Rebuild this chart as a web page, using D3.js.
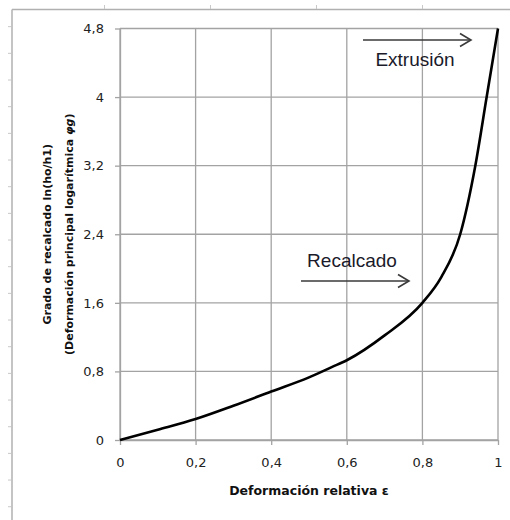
<!DOCTYPE html>
<html>
<head>
<meta charset="utf-8">
<script src="https://cdn.jsdelivr.net/npm/d3@7"></script>
<style>
  body { margin: 0; background: #fff; }
  svg text { font-family: "Liberation Sans", Arial, sans-serif; }
</style>
</head>
<body>
<svg id="chart" width="510" height="520"></svg>
<script>
// curve: relative deformation vs log. strain
var epsilon = [0, 0.1, 0.2, 0.3, 0.4, 0.5, 0.56, 0.6, 0.7, 0.8, 0.85, 0.9, 0.94, 0.97, 1];
var phi     = [0, 0.12, 0.245, 0.40, 0.565, 0.73, 0.85, 0.93, 1.22, 1.60, 1.90, 2.40, 3.2, 4.0, 4.8];

var xTicks = [0, 0.2, 0.4, 0.6, 0.8, 1];
var yTicks = [0, 0.8, 1.6, 2.4, 3.2, 4, 4.8];

var xTitle = "Deformación relativa ε";
var yTitle1 = "Grado de recalcado ln(ho/h1)";
var yTitle2 = "(Deformación principal logarítmica ";

var svg = d3.select("#chart");
var gridColor = "#a3a3a3";
var titleFont = "'DejaVu Sans', Verdana, sans-serif";

// outer frame with little ruler marks
svg.append("line")
    .attr("x1", 12).attr("y1", 9.5).attr("x2", 510).attr("y2", 9.5)
    .attr("stroke", "#b0b0b0").attr("stroke-width", 1.5);
svg.append("line")
    .attr("x1", 12).attr("y1", 9.5).attr("x2", 12).attr("y2", 520)
    .attr("stroke", "#b0b0b0").attr("stroke-width", 1.5);
for (var k = 1; k < 20; k++) {
  svg.append("line")
    .attr("x1", 8).attr("x2", 11).attr("y1", k * 26.67).attr("y2", k * 26.67)
    .attr("stroke", "#c8c8c8");
}
for (var k = 0; k < 4; k++) {
  svg.append("line")
    .attr("x1", 104.5 + k * 106).attr("x2", 104.5 + k * 106).attr("y1", 5).attr("y2", 9)
    .attr("stroke", "#c8c8c8");
}

var x = d3.scaleLinear().domain([0, 1]).range([120, 498]);
var y = d3.scaleLinear().domain([0, 4.8]).range([440, 28.5]);

function comma(d) { return String(d).replace(".", ","); }

// grid
var grid = svg.append("g").attr("id", "grid");
grid.selectAll(".gx")
    .data(xTicks)
    .enter().append("line")
    .attr("x1", function(d) { return x(d); })
    .attr("x2", function(d) { return x(d); })
    .attr("y1", y(4.8)).attr("y2", y(0))
    .attr("stroke", gridColor).attr("stroke-width", 1.3);
grid.selectAll(".gy")
    .data(yTicks)
    .enter().append("line")
    .attr("x1", x(0)).attr("x2", x(1))
    .attr("y1", function(d) { return y(d); })
    .attr("y2", function(d) { return y(d); })
    .attr("stroke", gridColor).attr("stroke-width", 1.3);

// axes
var xAxis = svg.append("g")
    .attr("transform", "translate(0," + y(0) + ")")
    .call(d3.axisBottom(x).tickValues(xTicks).tickFormat(comma)
          .tickSizeInner(5).tickSizeOuter(0).tickPadding(13));
var yAxis = svg.append("g")
    .attr("transform", "translate(" + x(0) + ",0)")
    .call(d3.axisLeft(y).tickValues(yTicks).tickFormat(comma)
          .tickSizeInner(5).tickSizeOuter(0).tickPadding(11));

[xAxis, yAxis].forEach(function(a) {
  a.select(".domain").attr("stroke", gridColor).attr("stroke-width", 1.3);
  a.selectAll(".tick line").attr("stroke", gridColor).attr("stroke-width", 1.3);
  a.selectAll(".tick text")
    .attr("fill", "#222")
    .style("font-size", "13px")
    .style("font-family", titleFont);
});

// curve
var pts = epsilon.map(function(e, i) { return [e, phi[i]]; });
var line = d3.line()
    .x(function(d) { return x(d[0]); })
    .y(function(d) { return y(d[1]); })
    .curve(d3.curveMonotoneX);

svg.append("path")
    .datum(pts)
    .attr("d", line)
    .attr("fill", "none")
    .attr("stroke", "#000")
    .attr("stroke-width", 2.6);

// annotations with arrows
function arrow(x1, x2, yy) {
  var g = svg.append("g").attr("stroke", "#3a3a3a").attr("stroke-width", 1.6).attr("fill", "none");
  g.append("line").attr("x1", x1).attr("x2", x2).attr("y1", yy).attr("y2", yy);
  g.append("path").attr("d", "M" + (x2 - 11) + "," + (yy - 6.5) + "L" + x2 + "," + yy + "L" + (x2 - 11) + "," + (yy + 6.5));
}
arrow(363, 471, 40);
arrow(301, 409, 281);

svg.append("text")
    .attr("x", 415).attr("y", 66)
    .attr("text-anchor", "middle")
    .attr("fill", "#1a1a2a")
    .style("font-size", "19px")
    .text("Extrusión");
svg.append("text")
    .attr("x", 352).attr("y", 267)
    .attr("text-anchor", "middle")
    .attr("fill", "#1a1a2a")
    .style("font-size", "19px")
    .text("Recalcado");

// axis titles
svg.append("text")
    .attr("x", (x(0) + x(1)) / 2).attr("y", 495)
    .attr("text-anchor", "middle")
    .attr("fill", "#111")
    .style("font-family", titleFont)
    .style("font-size", "12.5px").style("font-weight", "bold")
    .text(xTitle);

var yMid = (y(0) + y(4.8)) / 2;
svg.append("text")
    .attr("transform", "translate(51," + yMid + ") rotate(-90)")
    .attr("text-anchor", "middle")
    .attr("fill", "#111")
    .style("font-family", titleFont)
    .style("font-size", "11px").style("font-weight", "bold")
    .text(yTitle1);
var t2 = svg.append("text")
    .attr("transform", "translate(73," + yMid + ") rotate(-90)")
    .attr("text-anchor", "middle")
    .attr("fill", "#111")
    .style("font-family", titleFont)
    .style("font-size", "11px").style("font-weight", "bold");
t2.append("tspan").text(yTitle2);
t2.append("tspan").style("font-style", "italic").text("φg");
t2.append("tspan").text(")");
</script>
</body>
</html>
